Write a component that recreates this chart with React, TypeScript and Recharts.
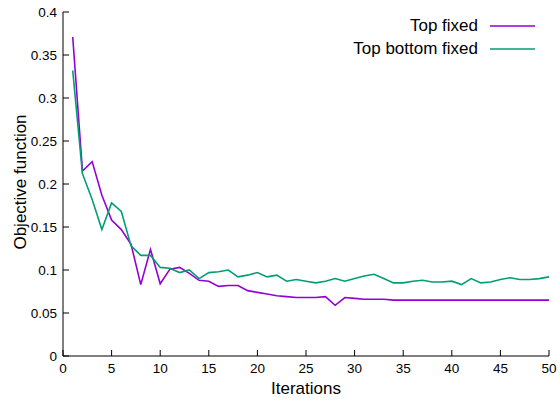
import React from 'react';
import { LineChart, Line, XAxis, YAxis, Legend, Label } from 'recharts';

const iterations = [
  1, 2, 3, 4, 5, 6, 7, 8, 9, 10, 11, 12, 13, 14, 15, 16, 17, 18, 19, 20, 21, 22, 23, 24, 25,
  26, 27, 28, 29, 30, 31, 32, 33, 34, 35, 36, 37, 38, 39, 40, 41, 42, 43, 44, 45, 46, 47, 48, 49, 50,
];

const topFixed = [
  0.371, 0.215, 0.226, 0.187, 0.158, 0.147, 0.13, 0.083, 0.124, 0.084,
  0.101, 0.103, 0.096, 0.088, 0.087, 0.081, 0.082, 0.082, 0.076, 0.074,
  0.072, 0.07, 0.069, 0.068, 0.068, 0.068, 0.069, 0.059, 0.068, 0.067,
  0.066, 0.066, 0.066, 0.065, 0.065, 0.065, 0.065, 0.065, 0.065, 0.065,
  0.065, 0.065, 0.065, 0.065, 0.065, 0.065, 0.065, 0.065, 0.065, 0.065,
];

const topBottomFixed = [
  0.332, 0.212, 0.182, 0.147, 0.178, 0.168, 0.128, 0.117, 0.117, 0.103,
  0.102, 0.097, 0.1, 0.09, 0.097, 0.098, 0.1, 0.092, 0.094, 0.097,
  0.092, 0.094, 0.087, 0.089, 0.087, 0.085, 0.087, 0.09, 0.087, 0.09,
  0.093, 0.095, 0.09, 0.085, 0.085, 0.087, 0.088, 0.086, 0.086, 0.087,
  0.083, 0.09, 0.085, 0.086, 0.089, 0.091, 0.089, 0.089, 0.09, 0.092,
];

const xTicks = [0, 5, 10, 15, 20, 25, 30, 35, 40, 45, 50];
const yTicks = [0, 0.05, 0.1, 0.15, 0.2, 0.25, 0.3, 0.35, 0.4];

const series = [
  { key: 'topFixed', name: 'Top fixed', color: '#9400d3' },
  { key: 'topBottomFixed', name: 'Top bottom fixed', color: '#009e73' },
];

const data = iterations.map((it, i) => ({
  it,
  topFixed: topFixed[i],
  topBottomFixed: topBottomFixed[i],
}));

const FONT = '"Liberation Sans", Arial, sans-serif';
const TICK = 6;

const BottomTick = (props: any) => {
  const { x, y, payload } = props;
  return (
    <g>
      <line x1={x} y1={y} x2={x} y2={y - TICK} stroke="#000" />
      <text x={x} y={y + 17} textAnchor="middle" fontSize={13.5} fontFamily={FONT} fill="#000">
        {payload.value}
      </text>
    </g>
  );
};

const TopTick = (props: any) => {
  const { x, y } = props;
  return <line x1={x} y1={y} x2={x} y2={y + TICK} stroke="#000" />;
};

const LeftTick = (props: any) => {
  const { x, y, payload } = props;
  return (
    <g>
      <line x1={x} y1={y} x2={x + TICK} y2={y} stroke="#000" />
      <text x={x - 6} y={y + 5} textAnchor="end" fontSize={13.5} fontFamily={FONT} fill="#000">
        {payload.value}
      </text>
    </g>
  );
};

const RightTick = (props: any) => {
  const { x, y } = props;
  return <line x1={x} y1={y} x2={x - TICK} y2={y} stroke="#000" />;
};

const KeyBox = () => (
  <div style={{ fontFamily: FONT, fontSize: 17, color: '#000' }}>
    {series.map(s => (
      <div
        key={s.key}
        style={{ display: 'flex', justifyContent: 'flex-end', alignItems: 'center', height: 23 }}
      >
        <span>{s.name}</span>
        <svg width={45} height={4} style={{ marginLeft: 12 }}>
          <line x1={0} y1={2} x2={45} y2={2} stroke={s.color} strokeWidth={1.6} />
        </svg>
      </div>
    ))}
  </div>
);

export default function App() {
  return (
    <div style={{ position: 'absolute', left: 0, top: 0 }}>
      <LineChart
        width={560}
        height={403}
        data={data}
        margin={{ top: 12, right: 11, bottom: 0, left: 0 }}
      >
        <XAxis
          xAxisId="b"
          dataKey="it"
          type="number"
          domain={[0, 50]}
          ticks={xTicks}
          interval={0}
          height={47}
          tickSize={0}
          tickMargin={0}
          tickLine={false}
          axisLine={{ stroke: '#000' }}
          tick={<BottomTick />}
        >
          <Label value="Iterations" position="insideBottom" offset={9} fontSize={17} fontFamily={FONT} fill="#000" />
        </XAxis>
        <XAxis
          xAxisId="t"
          orientation="top"
          dataKey="it"
          type="number"
          domain={[0, 50]}
          ticks={xTicks}
          interval={0}
          height={0}
          tickSize={0}
          tickMargin={0}
          tickLine={false}
          axisLine={{ stroke: '#000' }}
          tick={<TopTick />}
        />
        <YAxis
          yAxisId="l"
          type="number"
          domain={[0, 0.4]}
          ticks={yTicks}
          interval={0}
          width={63}
          tickSize={0}
          tickMargin={0}
          tickLine={false}
          axisLine={{ stroke: '#000' }}
          tick={<LeftTick />}
        >
          <Label
            content={() => (
              <text
                transform="translate(26,182) rotate(-90)"
                textAnchor="middle"
                fontSize={17}
                fontFamily={FONT}
                fill="#000"
              >
                Objective function
              </text>
            )}
          />
        </YAxis>
        <YAxis
          yAxisId="r"
          orientation="right"
          type="number"
          domain={[0, 0.4]}
          ticks={yTicks}
          interval={0}
          width={0}
          tickSize={0}
          tickMargin={0}
          tickLine={false}
          axisLine={{ stroke: '#000' }}
          tick={<RightTick />}
        />
        <Legend
          layout="vertical"
          align="center"
          verticalAlign="middle"
          wrapperStyle={{ top: 14, left: 290, width: 245 }}
          content={() => <KeyBox />}
        />
        {series.map(s => (
          <Line
            key={s.key}
            xAxisId="b"
            yAxisId="l"
            dataKey={s.key}
            name={s.name}
            stroke={s.color}
            strokeWidth={1.6}
            dot={false}
            isAnimationActive={false}
            type="linear"
          />
        ))}
      </LineChart>
    </div>
  );
}
